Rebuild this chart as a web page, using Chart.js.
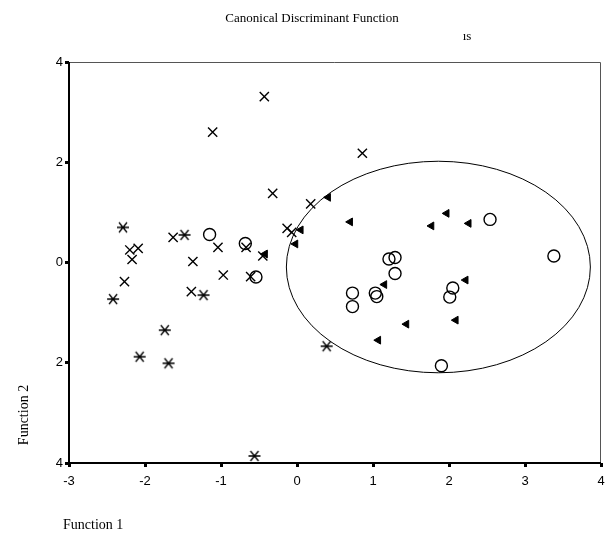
<!DOCTYPE html>
<html>
<head>
<meta charset="utf-8">
<script src="https://cdn.jsdelivr.net/npm/chart.js@4.4.0/dist/chart.umd.min.js"></script>
<style>
  html, body { margin: 0; padding: 0; background: #fff; }
  #wrap { width: 609px; height: 536px; }
</style>
</head>
<body>
<div id="wrap"><canvas id="chart" width="609" height="536"></canvas></div>
<script>
// group 1: asterisks
const starX = [-2.29, -1.48, -2.42, -1.74, -2.07, -1.69, -1.23, 0.39, -0.56];
const starY = [0.70, 0.55, -0.73, -1.35, -1.88, -2.01, -0.65, -1.67, -3.86];
// group 2: crosses
const crossX = [-0.43, -1.11, -0.32, 0.18, -0.13, -0.07, 0.86, -1.04, -0.67, -0.45, -0.97, -0.61, -1.63, -1.37, -1.39, -2.27, -2.20, -2.09, -2.17];
const crossY = [3.31, 2.60, 1.38, 1.17, 0.68, 0.60, 2.18, 0.30, 0.30, 0.13, -0.25, -0.28, 0.50, 0.02, -0.58, -0.38, 0.25, 0.28, 0.06];
// group 3: circles
const circX = [-1.15, -0.68, -0.54, 2.54, 3.38, 1.21, 1.29, 1.29, 0.73, 0.73, 1.03, 1.05, 2.05, 2.01, 1.90];
const circY = [0.56, 0.38, -0.29, 0.86, 0.13, 0.07, 0.10, -0.22, -0.61, -0.88, -0.61, -0.68, -0.51, -0.69, -2.06];
// group 4: triangles
const triX = [0.41, 0.70, 1.97, 1.77, 2.26, 0.05, -0.02, 1.15, 2.22, 1.44, 2.09, 1.07, -0.42];
const triY = [1.30, 0.81, 0.98, 0.73, 0.78, 0.65, 0.37, -0.44, -0.35, -1.23, -1.15, -1.55, 0.17];

// ellipse (centroid region)
const ELL_CX = 1.86, ELL_CY = -0.09, ELL_RX = 2.0, ELL_RY = 2.11;

const xTicks = [-3, -2, -1, 0, 1, 2, 3, 4];
const yTicks = [-4, -2, 0, 2, 4];

function pts(xs, ys) {
  return xs.map((x, i) => ({ x: x, y: ys[i] }));
}

// asterisk marker: horizontal bar + X
function makeStar() {
  const c = document.createElement("canvas");
  c.width = 14; c.height = 14;
  const g = c.getContext("2d");
  g.strokeStyle = "#000";
  g.lineWidth = 1.3;
  g.beginPath();
  g.moveTo(1, 7); g.lineTo(13, 7);
  g.moveTo(3, 2); g.lineTo(11, 12);
  g.moveTo(11, 2); g.lineTo(3, 12);
  g.stroke();
  return c;
}

const decor = {
  id: "decor",
  beforeDatasetsDraw(chart) {
    const { ctx, chartArea: a, scales } = chart;
    const xs = scales.x, ys = scales.y;
    ctx.save();
    // frame
    ctx.strokeStyle = "#555";
    ctx.lineWidth = 1;
    ctx.beginPath();
    ctx.moveTo(a.left, a.top + 0.5); ctx.lineTo(a.right - 0.5, a.top + 0.5); ctx.lineTo(a.right - 0.5, a.bottom);
    ctx.stroke();
    ctx.strokeStyle = "#000";
    ctx.lineWidth = 2;
    ctx.beginPath();
    ctx.moveTo(a.left, a.top); ctx.lineTo(a.left, a.bottom); ctx.lineTo(a.right, a.bottom);
    ctx.stroke();
    // ellipse
    const cx = xs.getPixelForValue(ELL_CX), cy = ys.getPixelForValue(ELL_CY);
    const rx = Math.abs(xs.getPixelForValue(ELL_CX + ELL_RX) - cx);
    const ry = Math.abs(ys.getPixelForValue(ELL_CY + ELL_RY) - cy);
    ctx.lineWidth = 1;
    ctx.beginPath();
    ctx.ellipse(cx, cy, rx, ry, 0, 0, Math.PI * 2);
    ctx.stroke();
    ctx.restore();
  },
  afterDraw(chart) {
    const ctx = chart.ctx;
    ctx.save();
    ctx.fillStyle = "#000";
    ctx.textBaseline = "middle";
    ctx.textAlign = "center";
    ctx.font = "13px 'Liberation Serif'";
    ctx.fillText("Canonical Discriminant Function", 312, 19);
    ctx.fillText("ıs", 467, 37);
    ctx.font = "14px 'Liberation Serif'";
    ctx.textAlign = "left";
    ctx.fillText("Function 1", 63, 525);
    ctx.translate(24, 415);
    ctx.rotate(-Math.PI / 2);
    ctx.textAlign = "center";
    ctx.fillText("Function 2", 0, 0);
    ctx.restore();
  }
};

const common = { showLine: false, pointBorderColor: "#000", pointBackgroundColor: "#000" };

new Chart(document.getElementById("chart"), {
  type: "scatter",
  data: {
    datasets: [
      Object.assign({ label: "1", data: pts(starX, starY), pointStyle: makeStar(), pointRadius: 7 }, common),
      Object.assign({ label: "2", data: pts(crossX, crossY), pointStyle: "crossRot", pointRadius: 6.5, pointBorderWidth: 1.4 }, common),
      Object.assign({ label: "3", data: pts(circX, circY), pointStyle: "circle", pointRadius: 6, pointBorderWidth: 1.4 }, common, { pointBackgroundColor: "rgba(0,0,0,0)" }),
      Object.assign({ label: "4", data: pts(triX, triY), pointStyle: "triangle", rotation: -90, pointRadius: 4.5, pointBorderWidth: 1 }, common)
    ]
  },
  options: {
    responsive: false,
    animation: false,
    layout: { padding: { top: 62, right: 4, left: 0, bottom: 0 } },
    plugins: { legend: { display: false }, tooltip: { enabled: false } },
    scales: {
      x: {
        type: "linear", min: -3, max: 4,
        afterBuildTicks: s => { s.ticks = xTicks.map(v => ({ value: v })); },
        afterFit: s => { s.height = 73; s.paddingLeft = 0; s.paddingRight = 0; },
        border: { display: false },
        grid: { drawOnChartArea: false, tickLength: 4, tickWidth: 3, color: "#000" },
        ticks: { color: "#000", padding: 7, font: { family: "'Liberation Sans'", size: 13 } }
      },
      y: {
        type: "linear", min: -4, max: 4,
        afterBuildTicks: s => { s.ticks = yTicks.map(v => ({ value: v })); },
        afterFit: s => { s.width = 69; s.paddingTop = 0; s.paddingBottom = 0; },
        border: { display: false },
        grid: { drawOnChartArea: false, tickLength: 4, tickWidth: 3, color: "#000" },
        ticks: { color: "#000", padding: 2, font: { family: "'Liberation Sans'", size: 13 },
          callback: v => String(Math.abs(v)) }
      }
    }
  },
  plugins: [decor]
});
</script>
</body>
</html>
